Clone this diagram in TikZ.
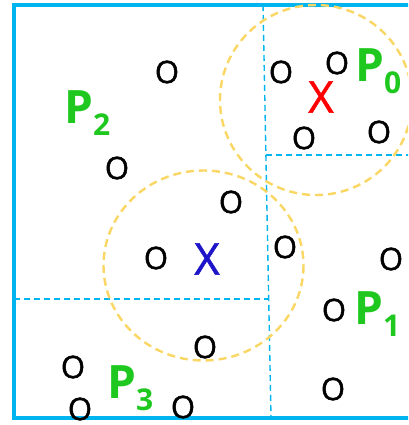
\documentclass[tikz,border=0pt]{standalone}
\usepackage{fontspec}
\setmainfont{Open Sans}
\newfontfamily\markfont[FakeBold=1.3]{Open Sans}
\definecolor{kdcyan}{RGB}{0,180,240}
\definecolor{kdyellow}{RGB}{250,215,100}
\definecolor{kdgreen}{RGB}{30,200,30}
\definecolor{kdred}{RGB}{255,0,0}
\definecolor{kdblue}{RGB}{30,20,200}
\newcommand{\partlbl}[1]{\bfseries P\raisebox{-12pt}{\fontsize{30}{30}\selectfont #1}}

\begin{document}
\begin{tikzpicture}[x=1pt, y=-1pt,
  frame/.style={draw=kdcyan, line width=4.5pt},
  split/.style={draw=kdcyan, line width=1.4pt, dash pattern=on 6pt off 4pt},
  reach/.style={draw=kdyellow, line width=2.4pt, dash pattern=on 8pt off 5pt},
  pt/.style={inner sep=0pt, font=\markfont\fontsize{31}{31}\selectfont},
  qry/.style={inner sep=0pt, font=\markfont\fontsize{44}{44}\selectfont},
  part/.style={inner sep=0pt, anchor=base west, text=kdgreen, font=\fontsize{46}{46}\selectfont}
]
\clip (0,0) rectangle (408,425);

% Outer box and splits
\draw[frame] (14,5) rectangle (430,418);
\coordinate (vtop) at (263,5);
\coordinate (vbot) at (271,418);
\draw[split] (vtop) -- (vbot);
\draw[split] (266,155) -- (420,155);
\draw[split] (14,299) -- (268,299);

% Search ranges
\draw[reach] (316,100) ellipse [x radius=96, y radius=95];
\draw[reach] (203.5,265.5) ellipse [x radius=100, y radius=95];

% Partition labels
\node[part] (p0) at (355,82)  {\partlbl{0}};
\node[part] (p1) at (354,324) {\partlbl{1}};
\node[part] (p2) at (64,123)  {\partlbl{2}};
\node[part] (p3) at (107,398) {\partlbl{3}};

% Query points
\node[qry, text=kdred]  (qa) at (321,97)  {X};
\node[qry, text=kdblue] (qb) at (207,259) {X};

% Data points
\node[pt] (o1)  at (167,72)  {O};
\node[pt] (o2)  at (281,72)  {O};
\node[pt] (o3)  at (337,63)  {O};
\node[pt] (o4)  at (304,138) {O};
\node[pt] (o5)  at (379,132) {O};
\node[pt] (o6)  at (117,168) {O};
\node[pt] (o7)  at (231,202) {O};
\node[pt] (o8)  at (156,258) {O};
\node[pt] (o9)  at (285,247) {O};
\node[pt] (o10) at (391,259) {O};
\node[pt] (o11) at (334,310) {O};
\node[pt] (o12) at (205,347) {O};
\node[pt] (o13) at (73,367)  {O};
\node[pt] (o14) at (80,409)  {O};
\node[pt] (o15) at (183,407) {O};
\node[pt] (o16) at (333,389) {O};
\end{tikzpicture}
\end{document}
